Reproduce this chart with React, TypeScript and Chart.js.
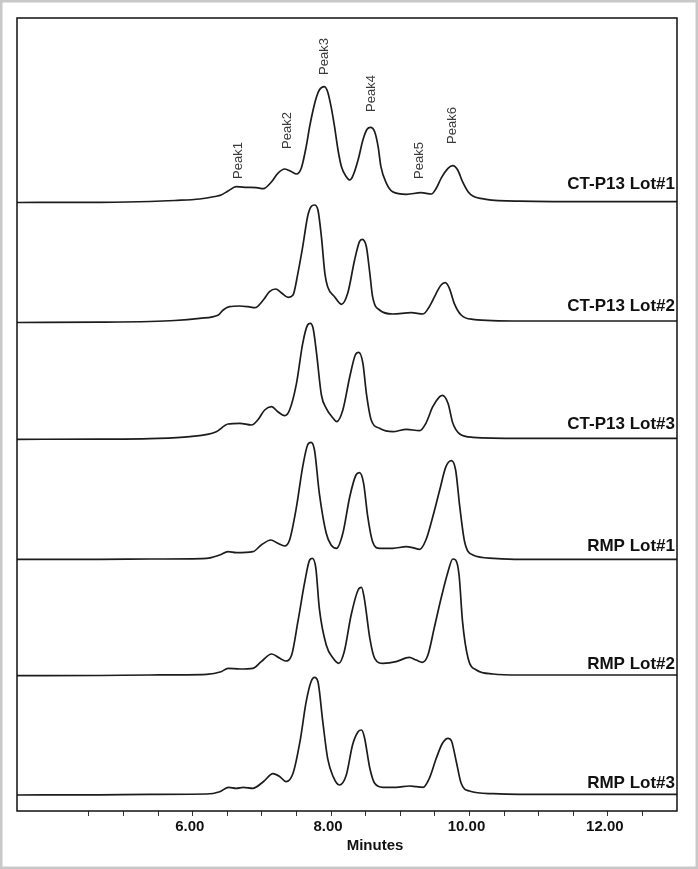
import React, { useEffect, useRef } from 'react';
import { Chart, registerables } from 'chart.js';

Chart.register(...registerables);

// ---------- data ----------
const traceNames = ['CT-P13 Lot#1', 'CT-P13 Lot#2', 'CT-P13 Lot#3', 'RMP Lot#1', 'RMP Lot#2', 'RMP Lot#3'];
// baseline level of each stacked trace (signal units)
const traceOffsets = [609.3, 490, 372.7, 251.7, 136, 16.7];
// how far above its baseline each trace name sits (signal units)
const traceLabelLifts = [12.5, 10, 9, 8, 6.5, 6.5];

const t1Time = [3.46, 4.66, 5.38, 5.74, 6.10, 6.32, 6.41, 6.51, 6.63, 6.78, 6.92, 7.02, 7.14, 7.23, 7.33, 7.43, 7.50, 7.57, 7.64, 7.69, 7.74, 7.79, 7.83, 7.90, 7.95, 8.00, 8.05, 8.10, 8.15, 8.22, 8.27, 8.31, 8.39, 8.46, 8.52, 8.57, 8.63, 8.68, 8.72, 8.80, 8.89, 9.09, 9.30, 9.45, 9.52, 9.59, 9.69, 9.76, 9.83, 9.90, 9.98, 10.05, 10.24, 10.72, 11.88, 13.0];
const t1Signal = [-0.8, -0.6, 0.2, 1.2, 2.7, 5.2, 6.7, 10.7, 15, 14.4, 14, 13, 20, 28.4, 32.7, 30, 27.7, 33.7, 55, 75, 91.7, 105, 111.7, 115, 110, 95, 75, 51.7, 35, 25, 21.7, 25, 41.7, 61.7, 72.4, 74.4, 70, 55, 35, 18.4, 10, 7.4, 9, 7.7, 13.4, 23.4, 33.4, 36, 31.7, 20, 10, 5.7, 2.4, 0.5, 0, 0];

const t2Time = [3.46, 4.66, 5.38, 5.74, 6.10, 6.37, 6.44, 6.53, 6.68, 6.80, 6.90, 7.02, 7.11, 7.20, 7.28, 7.38, 7.45, 7.52, 7.59, 7.66, 7.71, 7.76, 7.81, 7.86, 7.91, 7.95, 8.05, 8.15, 8.24, 8.34, 8.41, 8.45, 8.51, 8.56, 8.60, 8.70, 8.89, 9.16, 9.33, 9.42, 9.52, 9.59, 9.65, 9.71, 9.78, 9.88, 10.05, 10.72, 11.88, 13.0];
const t2Signal = [-1.5, -1.2, -0.5, 0.5, 2.7, 6, 11, 14.3, 15, 14.3, 13.3, 21, 29.3, 32, 28.3, 23.7, 26, 47.7, 74.3, 104.3, 114.3, 116, 111, 84.3, 47.7, 34.3, 24.3, 16.7, 27.7, 61, 79.3, 81.7, 74.3, 47.7, 24.3, 11, 7, 8.3, 7, 14.3, 27.7, 36, 38.3, 32.7, 17.7, 6, 1.7, 0, 0, 0];

const t3Time = [3.46, 4.66, 5.38, 5.96, 6.34, 6.51, 6.68, 6.85, 6.94, 7.04, 7.14, 7.23, 7.33, 7.40, 7.50, 7.59, 7.66, 7.70, 7.74, 7.79, 7.86, 7.93, 8.03, 8.08, 8.17, 8.27, 8.35, 8.40, 8.46, 8.51, 8.58, 8.70, 8.89, 9.09, 9.28, 9.37, 9.47, 9.57, 9.61, 9.69, 9.76, 9.86, 10.05, 10.72, 11.88, 13.0];
const t3Signal = [-1, -0.8, -0.3, 1.6, 6.6, 14.3, 15, 13.3, 18.3, 28.3, 31.6, 26.6, 22.6, 28.3, 55, 95, 113.3, 115, 110, 85, 43.3, 30, 20, 16.6, 28.3, 61.6, 83.3, 86, 75, 45, 18.3, 10, 6.6, 9, 7.6, 15, 31.6, 41.6, 43, 35, 15, 4.3, 1, 0, 0, 0];

const t4Time = [3.46, 4.66, 5.38, 6.20, 6.39, 6.51, 6.63, 6.87, 6.99, 7.13, 7.23, 7.33, 7.40, 7.50, 7.59, 7.66, 7.71, 7.76, 7.83, 7.93, 8.00, 8.08, 8.17, 8.27, 8.36, 8.41, 8.47, 8.53, 8.60, 8.70, 8.89, 9.09, 9.18, 9.28, 9.37, 9.47, 9.57, 9.66, 9.74, 9.80, 9.86, 9.93, 10.05, 10.34, 10.72, 11.88, 13.0];
const t4Signal = [0, 0, 0.3, 1, 4.3, 7.6, 6.6, 7.6, 14.3, 19.3, 16, 13.3, 19.3, 52.6, 92.6, 114.3, 117, 109.3, 66, 26, 14.3, 11, 26, 62.6, 84.3, 86.6, 76, 42.6, 17.6, 11, 11, 12.6, 11.6, 10, 19.3, 42.6, 69.3, 92.6, 98.6, 89.3, 52.6, 17.6, 4.3, 1, 0, 0, 0];

const t5Time = [3.46, 4.66, 5.38, 6.20, 6.41, 6.51, 6.68, 6.87, 6.99, 7.14, 7.26, 7.34, 7.43, 7.52, 7.62, 7.69, 7.73, 7.78, 7.83, 7.93, 8.03, 8.11, 8.19, 8.29, 8.39, 8.44, 8.48, 8.56, 8.63, 8.75, 8.94, 9.13, 9.23, 9.32, 9.40, 9.49, 9.59, 9.69, 9.76, 9.80, 9.85, 9.90, 9.98, 10.10, 10.34, 10.72, 11.88, 13.0];
const t5Signal = [-0.7, -0.5, 0, 0.7, 3.3, 6.7, 6, 6.7, 13.3, 21, 16.7, 14, 20, 53.3, 93.3, 115, 116.7, 106.7, 66.7, 30, 16.7, 11.7, 23.3, 60, 85, 87.7, 76.7, 36.7, 16.7, 11.7, 13.3, 17.7, 15, 12.7, 20, 46.7, 76.7, 103.3, 116, 115, 100, 53.3, 16.7, 5, 1, 0, 0, 0];

const t6Time = [3.46, 4.66, 5.38, 6.20, 6.39, 6.52, 6.63, 6.73, 6.87, 7.02, 7.16, 7.26, 7.35, 7.45, 7.55, 7.64, 7.71, 7.76, 7.81, 7.88, 7.95, 8.03, 8.12, 8.22, 8.31, 8.39, 8.44, 8.48, 8.56, 8.63, 8.75, 8.94, 9.13, 9.23, 9.33, 9.42, 9.52, 9.61, 9.69, 9.74, 9.81, 9.88, 10.00, 10.34, 10.72, 11.88, 13.0];
const t6Signal = [-0.7, -0.5, 0, 0.3, 2.6, 7, 6, 7, 6, 12.6, 20.6, 17.6, 12.6, 21, 52.6, 92.6, 112.6, 117, 112.6, 72.6, 36, 17.6, 9.3, 19.3, 49.3, 62.6, 64.3, 57.6, 26, 11, 7, 7, 8.3, 7.6, 7, 16, 36, 51, 56, 53.3, 32.6, 11, 3.3, 0.6, 0, 0, 0];

const traceTimes = [t1Time, t2Time, t3Time, t4Time, t5Time, t6Time];
const traceSignals = [t1Signal, t2Signal, t3Signal, t4Signal, t5Signal, t6Signal];

const peakNames = ['Peak1', 'Peak2', 'Peak3', 'Peak4', 'Peak5', 'Peak6'];
const peakTimes = [6.66, 7.37, 7.91, 8.58, 9.28, 9.75];
const peakLabelLevels = [22.7, 52.7, 126.7, 89.7, 22.7, 57.7];

const xTickValues = [4.5, 5, 5.5, 6, 6.5, 7, 7.5, 8, 8.5, 9, 9.5, 10, 10.5, 11, 11.5, 12, 12.5];
const xLabelledTicks = [6, 8, 10, 12];
const xMin = 3.46;
const xMax = 13.0;
const yMin = 0;
const yMax = 793;
const xTitle = 'Minutes';

const FONT = '"Liberation Sans", Arial, Helvetica, sans-serif';

const annotatePlugin = {
  id: 'annotate',
  beforeDraw(chart: any) {
    const ctx = chart.ctx;
    ctx.save();
    ctx.fillStyle = '#ffffff';
    ctx.fillRect(0, 0, chart.width, chart.height);
    ctx.strokeStyle = '#c8c8c8';
    ctx.lineWidth = 2.5;
    ctx.strokeRect(1.25, 1.25, chart.width - 2.5, chart.height - 2.5);
    ctx.restore();
  },
  afterDraw(chart: any) {
    const { ctx, chartArea: a, scales } = chart;
    const x = scales.x;
    const y = scales.y;
    ctx.save();
    ctx.strokeStyle = '#111111';
    ctx.lineWidth = 1.5;
    ctx.strokeRect(a.left, a.top, a.right - a.left, a.bottom - a.top);

    ctx.font = `bold 17px ${FONT}`;
    ctx.fillStyle = '#111111';
    ctx.textAlign = 'right';
    ctx.textBaseline = 'alphabetic';
    traceNames.forEach((n, i) => {
      ctx.fillText(n, a.right - 2, y.getPixelForValue(traceOffsets[i] + traceLabelLifts[i]));
    });

    ctx.font = `13px ${FONT}`;
    ctx.fillStyle = '#3a3a3a';
    peakNames.forEach((n, i) => {
      const px = x.getPixelForValue(peakTimes[i]);
      const py = y.getPixelForValue(traceOffsets[0] + peakLabelLevels[i]);
      ctx.save();
      ctx.translate(px, py);
      ctx.rotate(-Math.PI / 2);
      ctx.textAlign = 'left';
      ctx.textBaseline = 'middle';
      ctx.fillText(n, 0, 0);
      ctx.restore();
    });

    ctx.font = `bold 15px ${FONT}`;
    ctx.fillStyle = '#111111';
    ctx.textAlign = 'center';
    ctx.textBaseline = 'middle';
    ctx.fillText(xTitle, a.left + (a.right - a.left) * 0.5424, a.bottom + 35);
    ctx.restore();
  },
};

export default function App() {
  const ref = useRef<HTMLCanvasElement | null>(null);

  useEffect(() => {
    document.body.style.margin = '0';
    const canvas = ref.current;
    if (!canvas) return;
    const datasets = traceTimes.map((times, i) => {
      const sig = traceSignals[i];
      const n = Math.min(times.length, sig.length);
      const data = [] as { x: number; y: number }[];
      for (let j = 0; j < n; j++) data.push({ x: times[j], y: traceOffsets[i] + sig[j] });
      return {
        label: traceNames[i],
        data,
        borderColor: '#1c1c1c',
        borderWidth: 1.7,
        pointRadius: 0,
        fill: false,
        cubicInterpolationMode: 'monotone' as const,
      };
    });

    const chart = new Chart(canvas, {
      type: 'line',
      data: { datasets },
      options: {
        animation: false,
        responsive: false,
        devicePixelRatio: 1,
        layout: { padding: { left: 17, right: 21, top: 18, bottom: 8 } },
        plugins: { legend: { display: false }, tooltip: { enabled: false } },
        scales: {
          x: {
            type: 'linear',
            min: xMin,
            max: xMax,
            afterBuildTicks: (scale: any) => {
              scale.ticks = xTickValues.map((v) => ({ value: v }));
            },
            afterFit: (scale: any) => {
              scale.height = 50;
            },
            ticks: {
              autoSkip: false,
              maxRotation: 0,
              padding: 2,
              labelOffset: -3,
              color: '#111111',
              font: { family: FONT, size: 15, weight: 'bold' },
              callback: (v: any) => (xLabelledTicks.includes(Number(v)) ? Number(v).toFixed(2) : ''),
            },
            grid: {
              display: true,
              drawOnChartArea: false,
              drawTicks: true,
              tickLength: 5,
              color: '#333333',
              lineWidth: 1,
            },
            border: { display: false },
          },
          y: {
            type: 'linear',
            display: false,
            min: yMin,
            max: yMax,
          },
        },
      },
      plugins: [annotatePlugin],
    });
    return () => chart.destroy();
  }, []);

  return (
    <div style={{ width: 698, height: 869 }}>
      <canvas ref={ref} width={698} height={869} style={{ display: 'block' }} />
    </div>
  );
}
